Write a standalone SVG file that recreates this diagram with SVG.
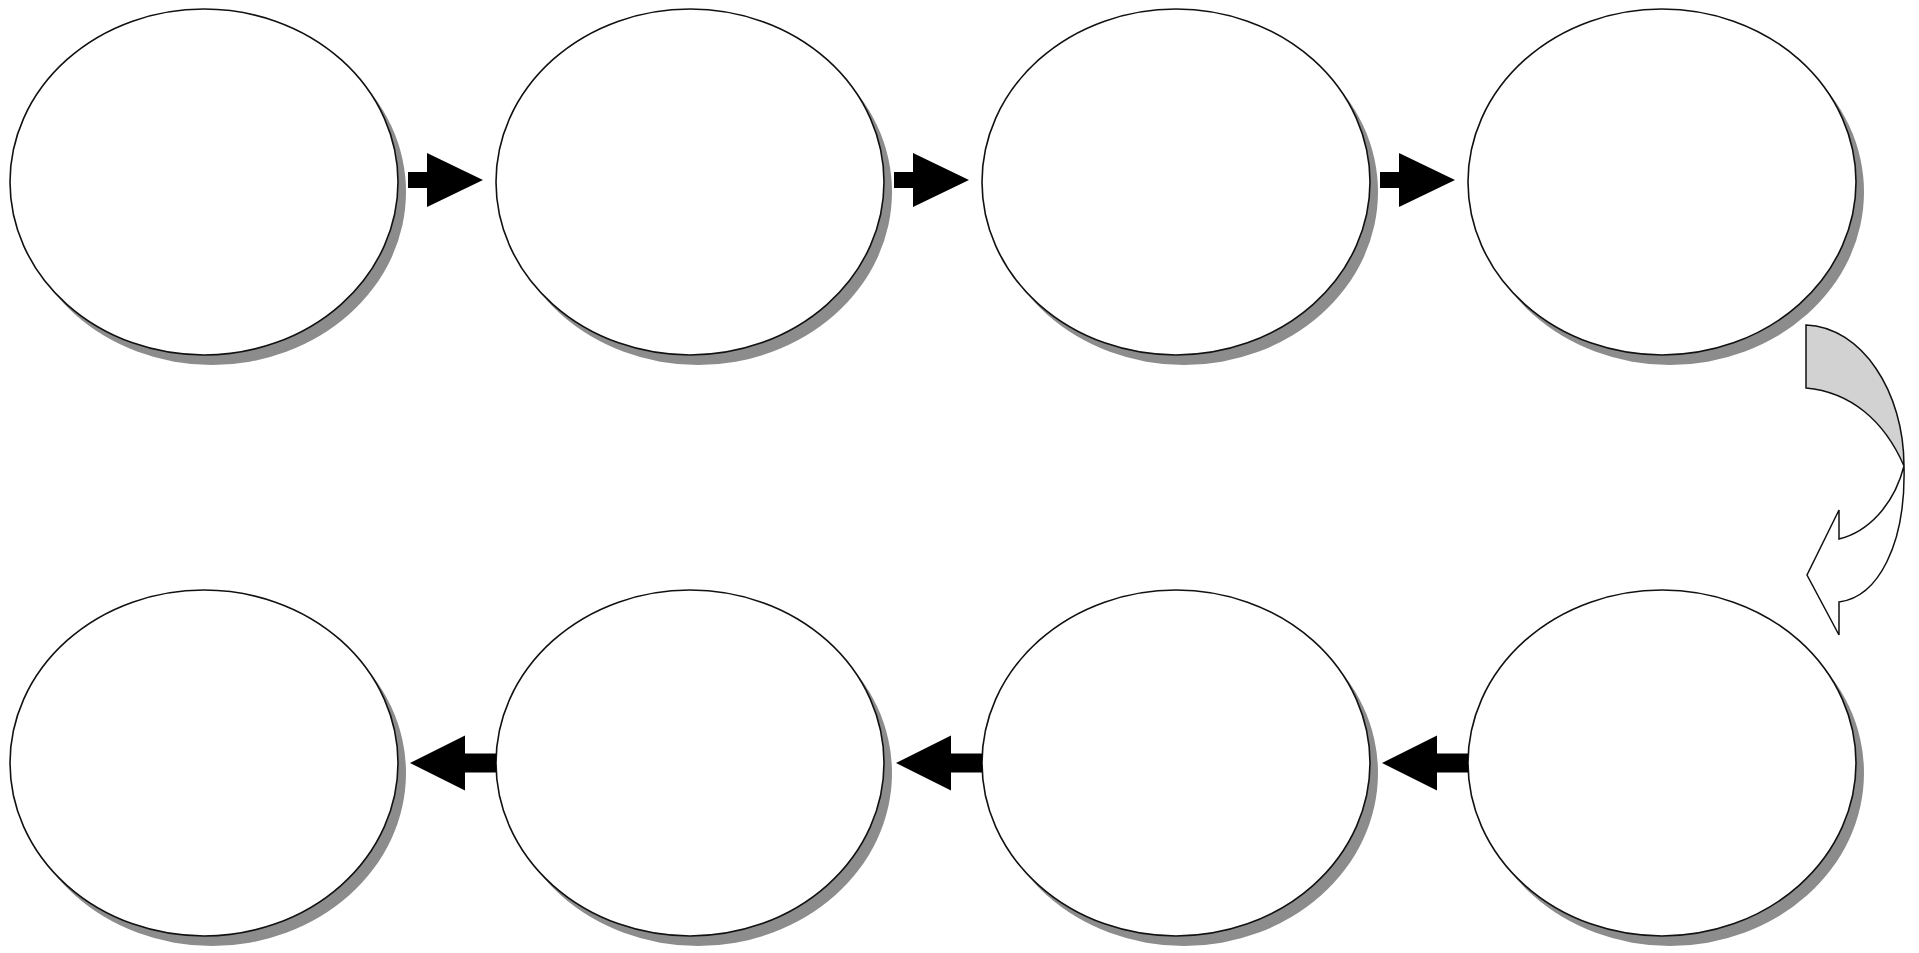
<svg xmlns="http://www.w3.org/2000/svg" width="1919" height="953" viewBox="0 0 1919 953">
<style>
.sh{fill:#8c8c8c;stroke:none}
.el{fill:#ffffff;stroke:#111;stroke-width:1.6}
.ar{fill:#000;stroke:none}
.cg{fill:#d2d2d2;stroke:#111;stroke-width:1.5;stroke-linejoin:miter}
.cw{fill:#ffffff;stroke:#111;stroke-width:1.5;stroke-linejoin:miter}
</style>
<rect width="1919" height="953" fill="#fff"/>
<defs>
<g id="node"><ellipse class="sh" cx="8" cy="10" rx="194" ry="173"/><ellipse class="el" cx="0" cy="0" rx="194" ry="173"/></g>
<path id="ra" d="M0,-8 L19,-8 L19,-27 L75,0 L19,27 L19,8 L0,8 Z"/>
<path id="la" d="M0,-9.5 L-31,-9.5 L-31,-27.5 L-86,0 L-31,27.5 L-31,9.5 L0,9.5 Z"/>
</defs>
<g id="n1"><use href="#node" x="204" y="182"/></g>
<g id="n2"><use href="#node" x="690" y="182"/></g>
<g id="n3"><use href="#node" x="1176" y="182"/></g>
<g id="n4"><use href="#node" x="1662" y="182"/></g>
<g id="n5"><use href="#node" x="1662" y="763"/></g>
<g id="n6"><use href="#node" x="1176" y="763"/></g>
<g id="n7"><use href="#node" x="690" y="763"/></g>
<g id="n8"><use href="#node" x="204" y="763"/></g>
<g id="connectors">
<use class="ar" href="#ra" x="408" y="180"/>
<use class="ar" href="#ra" x="894" y="180"/>
<use class="ar" href="#ra" x="1380" y="180"/>
<use class="ar" href="#la" x="1468" y="763"/>
<use class="ar" href="#la" x="982" y="763"/>
<use class="ar" href="#la" x="496" y="763"/>
<g id="curved">
<path class="cg" d="M1806,325 C1862,327 1904,392 1904,466 C1884,420 1850,392 1806,388 Z"/>
<path class="cw" d="M1904,466 C1906,545 1878,597 1839,602 L1839,635 L1807,575 L1839,510 L1839,539 C1868,532 1894,505 1904,466 Z"/>
</g>
</g>
</svg>
